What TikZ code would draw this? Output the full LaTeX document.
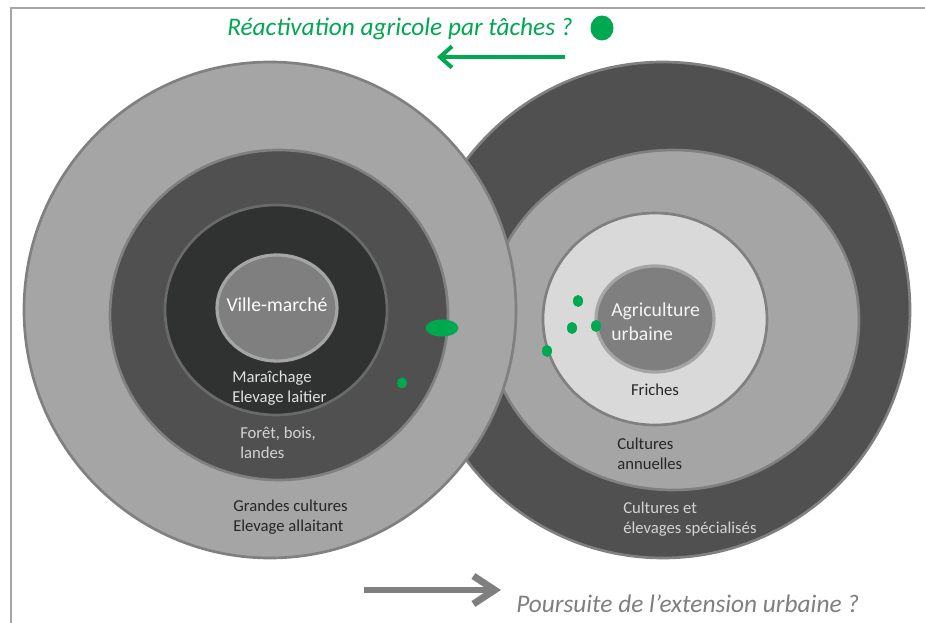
\documentclass[tikz,border=0pt]{standalone}
\usepackage{fontspec}
\setmainfont{Carlito}
\usetikzlibrary{arrows.meta}
\definecolor{agreen}{RGB}{0,168,80}
\definecolor{gA}{RGB}{165,165,165}
\definecolor{gB}{RGB}{80,80,80}
\definecolor{gC}{RGB}{48,50,50}
\definecolor{gD}{RGB}{217,217,217}
\definecolor{gE}{RGB}{127,127,127}
\definecolor{gLine}{RGB}{128,128,128}
\definecolor{gFrame}{RGB}{166,166,166}
\definecolor{txtdark}{RGB}{38,38,38}
\definecolor{txtlight}{RGB}{225,225,225}
\tikzset{
  ring/.style={draw=gLine, line width=2pt},
  core/.style={draw=gA, fill=gE, line width=2.4pt},
  spot/.style={fill=agreen, draw=none},
  lab/.style={font=\fontsize{12.5}{15}\selectfont, inner sep=0pt, align=left},
  biglab/.style={font=\fontsize{14.8}{18}\selectfont, inner sep=0pt, align=left},
  bigtitle/.style={font=\fontsize{19}{22}\selectfont\itshape, inner sep=0pt},
  garrow/.style={draw=agreen, line width=3pt, -{Straight Barb[length=9pt,width=16pt]}},
  grarrow/.style={draw=gE, line width=5.2pt, -{Straight Barb[length=16pt,width=21pt]}},
}
\begin{document}
\begin{tikzpicture}[x=0.75pt,y=-0.75pt]
\useasboundingbox (0,0) rectangle (925,623);
\fill[white] (0,0) rectangle (925,623);
\draw[gFrame, line width=1.5pt] (926,8) -- (11,8) -- (11,624);

% right circle
\draw[ring, fill=gB] (663,310) ellipse [x radius=247, y radius=248];
\draw[ring, fill=gA] (673,320) ellipse [x radius=186, y radius=170];
\draw[ring, fill=gD] (655,319) ellipse [x radius=112, y radius=106];
\draw[core] (655,319) ellipse [x radius=59, y radius=53];

% left circle
\draw[ring, fill=gA] (270,310) ellipse [x radius=246, y radius=248];
\draw[ring, fill=gB] (279,315) ellipse [x radius=169, y radius=165];
\draw[ring, draw=gB!70!gA, fill=gC] (276,310) ellipse [x radius=111, y radius=105];
\draw[core] (277,308) ellipse [x radius=60, y radius=53];

% green spots
\fill[spot] (442,328) ellipse [x radius=16.5, y radius=8.5];
\fill[spot] (402,383) ellipse [x radius=5, y radius=5.5];
\fill[spot] (578,301) ellipse [x radius=5, y radius=6];
\fill[spot] (572,328) ellipse [x radius=5, y radius=6];
\fill[spot] (596,326) ellipse [x radius=5, y radius=6];
\fill[spot] (547,351) ellipse [x radius=5, y radius=6];
\fill[spot] (602,28) ellipse [x radius=11.5, y radius=12.5];

% texts
\node[biglab, text=white] (ville) at (277,305) {Ville-marché};
\node[lab, text=txtlight, anchor=west] (mara) at (232,388) {Maraîchage\\Elevage laitier};
\node[lab, text=txtlight!90!gB, anchor=west] (foret) at (240,443) {Forêt, bois,\\landes};
\node[lab, text=txtdark, anchor=west] (grandes) at (233,517) {Grandes cultures\\Elevage allaitant};
\node[biglab, text=white!92!gE, anchor=west] (agri) at (611,322) {Agriculture\\urbaine};
\node[lab, text=txtdark] (friches) at (655,390) {Friches};
\node[lab, text=txtdark, anchor=west] (annu) at (617,454) {Cultures\\annuelles};
\node[lab, text=txtlight!90!gB, anchor=west] (spec) at (623,519) {Cultures et\\élevages spécialisés};

\node[bigtitle, text=agreen, anchor=west] (react) at (227,29) {Réactivation agricole par tâches ?};
\node[bigtitle, text=gE, anchor=west] (pours) at (516,604) {Poursuite de l’extension urbaine ?};

% arrows
\coordinate (gs) at (565,57);
\coordinate (ge) at (437,57);
\draw[garrow] (gs) -- (ge);
\coordinate (rs) at (364,590);
\coordinate (re) at (501,590);
\draw[grarrow] (rs) -- (re);
\end{tikzpicture}
\end{document}
